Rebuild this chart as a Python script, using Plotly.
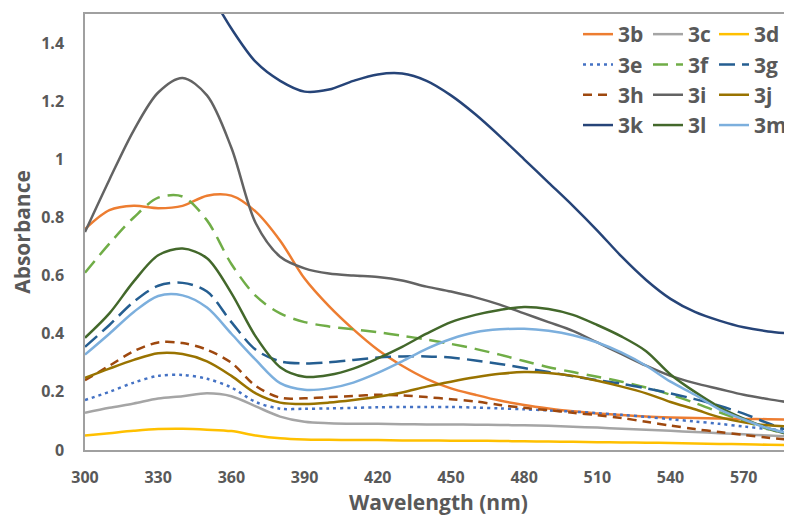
import plotly.graph_objects as go

wavelength = [300, 310, 320, 330, 340, 350, 360, 370, 380, 390, 400, 410, 420, 430, 440,
              450, 460, 470, 480, 490, 500, 510, 520, 530, 540, 550, 560, 570, 580, 590]

abs_3b = [0.76, 0.825, 0.84, 0.832, 0.84, 0.875, 0.875, 0.82, 0.72, 0.59, 0.495, 0.415, 0.345, 0.29, 0.245,
          0.212, 0.19, 0.17, 0.155, 0.143, 0.133, 0.126, 0.12, 0.115, 0.112, 0.11, 0.108, 0.107, 0.106, 0.105]
abs_3c = [0.128, 0.145, 0.16, 0.177, 0.185, 0.195, 0.185, 0.15, 0.115, 0.097, 0.092, 0.09, 0.09, 0.089, 0.088,
          0.088, 0.087, 0.086, 0.085, 0.083, 0.08, 0.077, 0.073, 0.07, 0.066, 0.062, 0.058, 0.054, 0.05, 0.046]
abs_3d = [0.05, 0.058, 0.066, 0.072, 0.073, 0.07, 0.065, 0.05, 0.04, 0.036, 0.035, 0.034, 0.034, 0.033, 0.033,
          0.032, 0.032, 0.031, 0.03, 0.029, 0.028, 0.027, 0.026, 0.025, 0.024, 0.022, 0.021, 0.02, 0.018, 0.017]
abs_3e = [0.172, 0.2, 0.232, 0.255, 0.258, 0.245, 0.215, 0.165, 0.142, 0.142, 0.143, 0.145, 0.147, 0.148, 0.148,
          0.148, 0.146, 0.143, 0.14, 0.136, 0.132, 0.127, 0.121, 0.114, 0.106, 0.098, 0.09, 0.081, 0.072, 0.064]
abs_3f = [0.61, 0.71, 0.8, 0.868, 0.872, 0.79, 0.64, 0.53, 0.47, 0.44, 0.425, 0.415, 0.405, 0.393, 0.38,
          0.365, 0.348, 0.328, 0.306, 0.285, 0.268, 0.252, 0.235, 0.215, 0.19, 0.162, 0.13, 0.1, 0.072, 0.05]
abs_3g = [0.355, 0.43, 0.51, 0.565, 0.575, 0.545, 0.44, 0.345, 0.305, 0.298, 0.302, 0.31, 0.318, 0.322, 0.322,
          0.318, 0.308, 0.296, 0.282, 0.268, 0.254, 0.24, 0.228, 0.212, 0.195, 0.175, 0.152, 0.125, 0.092, 0.062]
abs_3h = [0.24, 0.29, 0.34, 0.37, 0.368, 0.345, 0.3, 0.22, 0.18, 0.178, 0.182, 0.186, 0.19, 0.188, 0.182,
          0.175, 0.167, 0.155, 0.145, 0.137, 0.128, 0.12, 0.11, 0.097, 0.084, 0.072, 0.062, 0.052, 0.042, 0.034]
abs_3i = [0.75, 0.93, 1.1, 1.23, 1.28, 1.22, 1.04, 0.78, 0.665, 0.625, 0.607, 0.6, 0.595, 0.583, 0.562,
          0.545, 0.525, 0.5, 0.47, 0.44, 0.41, 0.37, 0.33, 0.29, 0.255, 0.23, 0.21, 0.19, 0.175, 0.162]
abs_3j = [0.248, 0.28, 0.31, 0.333, 0.33, 0.305, 0.255, 0.195, 0.163, 0.158, 0.163, 0.172, 0.183, 0.198, 0.218,
          0.235, 0.25, 0.262, 0.268, 0.265, 0.255, 0.238, 0.218, 0.195, 0.165, 0.14, 0.113, 0.095, 0.085, 0.08]
abs_3k = [2.3, 2.15, 2.0, 1.85, 1.72, 1.59, 1.45, 1.335, 1.27, 1.233, 1.24, 1.27, 1.292, 1.295, 1.27,
          1.22, 1.155, 1.08, 1.0, 0.92, 0.84, 0.755, 0.665, 0.585, 0.52, 0.475, 0.445, 0.422, 0.408, 0.4]
abs_3l = [0.386, 0.47, 0.58, 0.67, 0.693, 0.66, 0.54, 0.39, 0.285, 0.252, 0.258, 0.28, 0.315, 0.355, 0.4,
          0.44, 0.465, 0.482, 0.492, 0.485, 0.465, 0.43, 0.39, 0.34, 0.26, 0.2, 0.148, 0.108, 0.075, 0.05]
abs_3m = [0.328, 0.4, 0.475, 0.53, 0.532, 0.49, 0.4, 0.31, 0.23, 0.207, 0.212, 0.232, 0.265, 0.305, 0.348,
          0.382, 0.405, 0.415, 0.417, 0.41, 0.395, 0.37, 0.335, 0.29, 0.235, 0.19, 0.14, 0.105, 0.075, 0.055]

series_names = ["3b", "3c", "3d", "3e", "3f", "3g", "3h", "3i", "3j", "3k", "3l", "3m"]
series_values = [abs_3b, abs_3c, abs_3d, abs_3e, abs_3f, abs_3g, abs_3h, abs_3i, abs_3j, abs_3k, abs_3l, abs_3m]
colors = ["#ED7D31", "#A5A5A5", "#FFC000", "#4472C4", "#70AD47", "#255E91",
          "#9E480E", "#636363", "#997300", "#264478", "#43682B", "#7CAFDD"]
dashes = ["solid", "solid", "solid", "3px,4px", "15px,8px", "16px,7px",
          "9px,6px", "solid", "solid", "solid", "solid", "solid"]
legend_ids = ["legend", "legend2", "legend3"] * 4

x_ticks = [300, 330, 360, 390, 420, 450, 480, 510, 540, 570]
y_ticks = [0, 0.2, 0.4, 0.6, 0.8, 1.0, 1.2, 1.4]
y_tick_text = ["0", "0.2", "0.4", "0.6", "0.8", "1", "1.2", "1.4"]

FONT = "Open Sans"
GREY = "#595959"
# the page body has an 8px margin, so the figure is sized to fit the window without scrollbars
W, H = 784, 508

fig = go.Figure()
for name, vals, col, dsh, lg in zip(series_names, series_values, colors, dashes, legend_ids):
    fig.add_trace(go.Scatter(
        x=wavelength, y=vals, name=name, mode="lines",
        line=dict(color=col, width=2.5, dash=dsh, shape="spline", smoothing=0.9),
        legend=lg,
    ))

leg_common = dict(font=dict(family=FONT, size=21, color=GREY, weight="bold"),
                  bgcolor="rgba(0,0,0,0)", borderwidth=0,
                  xref="container", yref="container",
                  yanchor="top", y=1 - 6 / H,
                  xanchor="left", tracegroupgap=0, itemwidth=30)

fig.update_layout(
    width=W, height=H,
    margin=dict(l=77, r=0, t=6, b=66, autoexpand=False),
    paper_bgcolor="white", plot_bgcolor="white",
    font=dict(family=FONT, color=GREY),
    legend=dict(x=570 / W, **leg_common),
    legend2=dict(x=640 / W, **leg_common),
    legend3=dict(x=706 / W, **leg_common),
    xaxis=dict(
        range=[300, 589.8], tickvals=x_ticks, ticktext=[str(v) for v in x_ticks],
        showgrid=False, zeroline=False, showline=True, linecolor="#A0A0A0", linewidth=1.5,
        mirror=True, ticks="", ticklabelstandoff=12, automargin=False,
        tickfont=dict(family=FONT, size=16, color=GREY, weight="bold"),
        title=dict(text="Wavelength (nm)", standoff=11,
                   font=dict(family=FONT, size=21, color=GREY, weight="bold")),
    ),
    yaxis=dict(
        range=[0, 1.5], tickvals=y_ticks, ticktext=y_tick_text,
        showgrid=False, zeroline=False, showline=True, linecolor="#A0A0A0", linewidth=1.5,
        ticks="", ticklabelstandoff=16, automargin=False,
        tickfont=dict(family=FONT, size=16, color=GREY, weight="bold"),
        title=dict(text="Absorbance", standoff=8,
                   font=dict(family=FONT, size=21, color=GREY, weight="bold")),
    ),
)

fig.write_html("out.html")
